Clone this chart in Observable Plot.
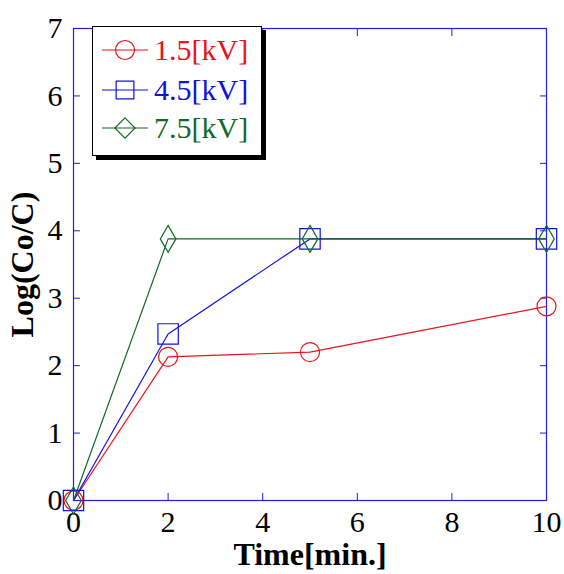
<!DOCTYPE html>
<html>
<head>
<meta charset="utf-8">
<script src="https://cdn.jsdelivr.net/npm/d3@7"></script>
<script src="https://cdn.jsdelivr.net/npm/@observablehq/plot@0.6"></script>
<style>
  html, body { margin: 0; padding: 0; background: #fff; }
  #wrap { position: relative; width: 564px; height: 574px; }
  #wrap svg { font-family: "Liberation Serif", "DejaVu Serif", serif; }
  g[aria-label="x-axis label"] text, g[aria-label="y-axis label"] text { font-weight: bold; font-size: 32px; fill: #000; }
  #legend { position: absolute; left: 92px; top: 26px; width: 168px; height: 128px; border: 1.5px solid #000; box-shadow: 4px 4px 0 #000; background: #fff; font-family: "Liberation Serif", serif; font-size: 30px; }
  .row { position: absolute; left: 0; height: 30px; display: flex; align-items: center; }
  .row svg { width: 52px; height: 30px; margin-left: 8px; }
  .row span { margin-left: 1px; line-height: 30px; }
</style>
</head>
<body>
<div id="wrap"></div>
<script>
const times = [0, 2, 5, 10];
const seriesNames = ["1.5[kV]", "4.5[kV]", "7.5[kV]"];
const values15 = [0, 2.13, 2.2, 2.88];
const values45 = [0, 2.47, 3.88, 3.88];
const values75 = [0, 3.88, 3.88, 3.88];
const colors = ["#e8141c", "#1010e0", "#0f6a28"];
const symbols = ["circle", "square", "diamond"];
const xTicks = [0, 2, 4, 6, 8, 10];
const yTicks = [0, 1, 2, 3, 4, 5, 6, 7];

const allSeries = [values15, values45, values75];
const data = [];
allSeries.forEach((vals, s) => vals.forEach((v, i) => data.push({t: times[i], v, s: seriesNames[s]})));

const marks = [
  Plot.frame({stroke: "#2020e0", strokeWidth: 1.2}),
  Plot.axisX({ticks: xTicks, anchor: "bottom", tickSize: -7, stroke: "#2020e0", tickFormat: () => "", label: null}),
  Plot.axisX({ticks: xTicks, anchor: "top", tickSize: -7, stroke: "#2020e0", tickFormat: () => "", label: null}),
  Plot.axisY({ticks: yTicks, anchor: "left", tickSize: -7, stroke: "#2020e0", tickFormat: () => "", label: null}),
  Plot.axisY({ticks: yTicks, anchor: "right", tickSize: -7, stroke: "#2020e0", tickFormat: () => "", label: null}),
  Plot.axisX({ticks: xTicks, anchor: "bottom", tickSize: 0, tickPadding: 10, fontSize: 30, fill: "#000", tickFormat: d3.format("d"), label: "Time[min.]", labelArrow: "none", labelAnchor: "center", labelOffset: 64}),
  Plot.axisY({ticks: yTicks, anchor: "left", tickSize: 0, tickPadding: 11, fontSize: 30, fill: "#000", tickFormat: d3.format("d"), label: "Log(Co/C)", labelArrow: "none", labelAnchor: "center", labelOffset: 63})
];
seriesNames.forEach((name, s) => {
  const d = data.filter(r => r.s === name);
  marks.push(Plot.line(d, {x: "t", y: "v", stroke: colors[s], strokeWidth: 1.2}));
});
seriesNames.forEach((name, s) => {
  const d = data.filter(r => r.s === name);
  marks.push(Plot.dot(d, {x: "t", y: "v", stroke: colors[s], symbol: () => symbols[s], r: s === 0 ? 9.5 : (s === 1 ? 11.5 : 8.2), fill: "none", strokeWidth: 1.2}));
});

const chart = Plot.plot({
  width: 564, height: 574,
  marginLeft: 73, marginRight: 18, marginTop: 28, marginBottom: 74,
  x: {domain: [0, 10], axis: null},
  y: {domain: [0, 7], axis: null},
  style: {fontFamily: '"Liberation Serif", serif', background: "#fff", overflow: "visible"},
  marks
});
const wrap = document.getElementById("wrap");
wrap.appendChild(chart);

// Legend
const legend = document.createElement("div");
legend.id = "legend";
const rowTops = [8, 48, 86];
seriesNames.forEach((name, s) => {
  const row = document.createElement("div");
  row.className = "row";
  row.style.top = rowTops[s] + "px";
  const sym = d3.symbol().type(s === 0 ? d3.symbolCircle : (s === 1 ? d3.symbolSquare2 : d3.symbolDiamond2)).size(s === 0 ? Math.PI * 90 : (s === 1 ? 400 : 260))();
  row.innerHTML = `<svg viewBox="0 0 52 30"><line x1="1" x2="47" y1="15" y2="15" stroke="${colors[s]}" stroke-width="1.2"/><path d="${sym}" transform="translate(24,15)" fill="none" stroke="${colors[s]}" stroke-width="1.2"/></svg><span style="color:${colors[s]}">${name}</span>`;
  legend.appendChild(row);
});
wrap.appendChild(legend);
</script>
</body>
</html>
